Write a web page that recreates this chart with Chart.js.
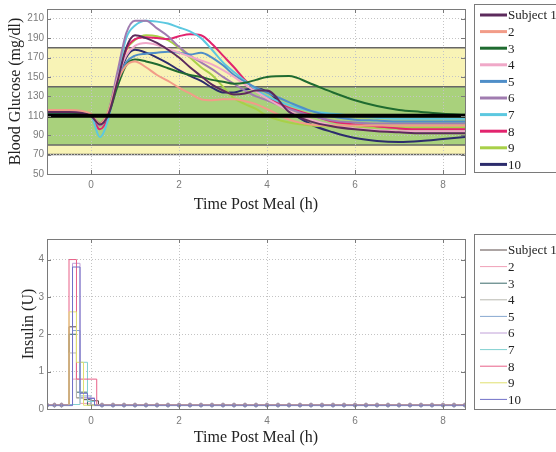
<!DOCTYPE html>
<html>
<head>
<meta charset="utf-8">
<script src="https://cdn.jsdelivr.net/npm/chart.js@4/dist/chart.umd.min.js"></script>
<style>
  html, body { margin: 0; padding: 0; background: #ffffff; }
  #wrap { position: relative; width: 556px; height: 452px; overflow: hidden; }
  canvas { position: absolute; left: 0; }
  #glucose { top: 0; }
  #insulin { top: 225px; }
</style>
</head>
<body>
<div id="wrap">
  <canvas id="glucose" width="556" height="225"></canvas>
  <canvas id="insulin" width="556" height="227"></canvas>
</div>
<script>
// ---- Glucose traces (mg/dl) sampled at these hours after the meal ----
const hours = [-1, -0.5, 0, 0.2, 0.4, 0.6, 0.8, 1, 1.25, 1.5, 1.75, 2, 2.25, 2.5, 2.75, 3, 3.25, 3.5, 3.75, 4, 4.5, 5, 5.5, 6, 6.5, 7, 7.5, 8, 8.5];

const glucose1  = [114,114,110,101,112,145,180,193,190,185,178,170,160,151,142,136,132,133,136,136,114,104,99,96,94,93,92,92,92];
const glucose2  = [116,116,112,102,115,145,162,166,160,152,146,139,133,127,126,127,127,125,122,117,106,101,100,100,100,100,100,100,100];
const glucose3  = [113,113,110,102,112,140,162,168,166,163,159,155,152,150,147,145,143,144,147,150,151,143,134,126,120,116,114,112,111];
const glucose4  = [114,114,110,101,113,148,172,182,185,183,179,175,171,167,163,157,150,142,135,128,115,106,100,97,95,94,94,94,94];
const glucose5  = [113,113,110,101,112,145,165,172,174,175,176,175,173,175,170,162,152,145,139,134,124,115,109,106,105,104,104,104,104];
const glucose6  = [114,114,110,100,115,155,195,208,208,200,192,181,172,165,158,150,143,136,130,126,117,110,105,103,102,102,102,102,102];
const glucose7  = [114,114,110,88,108,150,190,203,208,207,205,201,197,190,178,165,155,146,137,130,121,115,112,110,108,107,107,107,107];
const glucose8  = [114,114,110,96,110,145,178,189,191,190,189,192,194,193,184,172,160,147,137,129,118,111,104,101,99,97,96,96,96];
const glucose9  = [114,114,110,100,115,150,178,188,193,192,188,180,170,160,152,140,128,122,117,110,103,100,99,98,98,98,98,98,98];
const glucose10 = [113,113,110,102,114,145,170,178,175,170,164,157,151,146,139,134,134,137,138,135,115,101,93,87,84,83,84,86,88];

const glucoseSeries = [glucose1, glucose2, glucose3, glucose4, glucose5, glucose6, glucose7, glucose8, glucose9, glucose10];
const subjectLabels = ['Subject 1', '2', '3', '4', '5', '6', '7', '8', '9', '10'];
const glucoseColors = ['#5c2a5c', '#f29c88', '#1f6b30', '#f0a8c8', '#4f8ec8', '#a07cb0', '#5cc8e0', '#e2246e', '#a8d048', '#2c2c6c'];

// Target ranges: outer (yellow) and inner (green), plus the set point
const outerRange = [70, 180];
const innerRange = [80, 140];
const targetGlucose = 110;

const glucoseTicks = [50, 70, 90, 110, 130, 150, 170, 190, 210];
const hourTicks = [0, 2, 4, 6, 8];

// ---- Insulin delivery (U per step) ----
const basalHoursPre = [-1, -0.83, -0.67];
const basalHoursPost = [0.25, 0.5, 0.75, 1, 1.25, 1.5, 1.75, 2, 2.25, 2.5, 2.75, 3, 3.25, 3.5, 3.75, 4, 4.25, 4.5, 4.75, 5, 5.25, 5.5, 5.75, 6, 6.25, 6.5, 6.75, 7, 7.25, 7.5, 7.75, 8, 8.25, 8.5];
const basalRate = [0.1, 0.12, 0.1, 0.11, 0.09, 0.1, 0.12, 0.11, 0.1, 0.1];

const bolus1  = [[-0.5, 2.2], [-0.33, 0.3], [-0.17, 0.25], [0, 0.22], [0.17, 0.1]];
const bolus2  = [[-0.5, 0.12], [-0.42, 0.8], [-0.25, 0.15], [0, 0.12]];
const bolus3  = [[-0.5, 2.0], [-0.33, 0.45], [-0.08, 0.1]];
const bolus4  = [[-0.5, 1.5], [-0.33, 0.3], [0, 0.11]];
const bolus5  = [[-0.5, 0.09], [-0.42, 2.1], [-0.25, 0.35], [0, 0.09]];
const bolus6  = [[-0.5, 0.1], [-0.42, 3.9], [-0.25, 0.3], [0.08, 0.1]];
const bolus7  = [[-0.5, 0.12], [-0.25, 1.25], [-0.08, 0.2], [0.08, 0.12]];
const bolus8  = [[-0.5, 4.0], [-0.33, 0.8], [0.13, 0.11]];
const bolus9  = [[-0.5, 2.6], [-0.33, 1.25], [-0.17, 0.1]];
const bolus10 = [[-0.5, 0.1], [-0.42, 3.8], [-0.25, 0.42], [-0.08, 0.28], [0.08, 0.1]];

const bolusSeries = [bolus1, bolus2, bolus3, bolus4, bolus5, bolus6, bolus7, bolus8, bolus9, bolus10];
const insulinColors = ['#5a4a48', '#f0a0b8', '#3a6a6a', '#b8b8b0', '#88a8d0', '#c0a0d8', '#80d0d0', '#e86088', '#e0e070', '#7070c8'];
const insulinTicks = [0, 1, 2, 3, 4];

// ---- shared styling ----
const TICK_FONT = { family: 'Liberation Sans, Arial, sans-serif', size: 10 };
const TITLE_FONT = { family: 'Liberation Serif, Times New Roman, serif', size: 16 };
const LEGEND_FONT = '13px "Liberation Serif", serif';
const FRAME_COLOR = '#7a7a7a';

// Matlab-like box with inward tick marks on all four sides
const framePlugin = {
  id: 'frame',
  afterDatasetsDraw(chart) {
    const { ctx, chartArea: a, scales: { x, y } } = chart;
    ctx.save();
    ctx.strokeStyle = FRAME_COLOR;
    ctx.lineWidth = 1;
    ctx.strokeRect(Math.round(a.left) + 0.5, Math.round(a.top) + 0.5, Math.round(a.right - a.left), Math.round(a.bottom - a.top));
    ctx.beginPath();
    x.ticks.forEach(t => {
      const px = Math.round(x.getPixelForValue(t.value)) + 0.5;
      ctx.moveTo(px, a.bottom); ctx.lineTo(px, a.bottom - 4);
      ctx.moveTo(px, a.top); ctx.lineTo(px, a.top + 4);
    });
    y.ticks.forEach(t => {
      const py = Math.round(y.getPixelForValue(t.value)) + 0.5;
      ctx.moveTo(a.left, py); ctx.lineTo(a.left + 4, py);
      ctx.moveTo(a.right, py); ctx.lineTo(a.right - 4, py);
    });
    ctx.stroke();
    ctx.restore();
  }
};

// Legend drawn in a boxed panel to the right of the plot
function boxedLegend(box, lineWidth) {
  return {
    id: 'boxedLegend',
    afterDraw(chart) {
      const { ctx } = chart;
      ctx.save();
      ctx.strokeStyle = FRAME_COLOR;
      ctx.lineWidth = 1;
      ctx.strokeRect(box.left + 0.5, box.top + 0.5, box.width, box.height);
      ctx.font = LEGEND_FONT;
      ctx.textBaseline = 'middle';
      ctx.fillStyle = '#222';
      chart.data.datasets.forEach((ds, i) => {
        const cy = box.firstRow + i * box.rowGap;
        ctx.strokeStyle = ds.borderColor;
        ctx.lineWidth = lineWidth;
        ctx.beginPath();
        ctx.moveTo(box.left + 6, cy);
        ctx.lineTo(box.left + 33, cy);
        ctx.stroke();
        ctx.fillText(ds.label, box.left + 34, cy + 1);
      });
      ctx.restore();
    }
  };
}

// Target-range bands and the set-point line
const bandsPlugin = {
  id: 'bands',
  beforeDraw(chart) {
    const { ctx, chartArea: a, scales: { y } } = chart;
    const band = (lo, hi, color) => {
      const top = y.getPixelForValue(hi), bot = y.getPixelForValue(lo);
      ctx.fillStyle = color;
      ctx.fillRect(a.left, top, a.right - a.left, bot - top);
    };
    ctx.save();
    band(outerRange[0], outerRange[1], '#f8f3b6');
    band(innerRange[0], innerRange[1], '#a9d17c');
    ctx.strokeStyle = '#666';
    ctx.lineWidth = 1.5;
    [outerRange[0], innerRange[0], innerRange[1], outerRange[1]].forEach(v => {
      const py = y.getPixelForValue(v);
      ctx.beginPath(); ctx.moveTo(a.left, py); ctx.lineTo(a.right, py); ctx.stroke();
    });
    ctx.restore();
  },
  afterDatasetsDraw(chart) {
    const { ctx, chartArea: a, scales: { y } } = chart;
    const py = y.getPixelForValue(targetGlucose);
    ctx.save();
    ctx.strokeStyle = '#000';
    ctx.lineWidth = 4;
    ctx.beginPath(); ctx.moveTo(a.left, py); ctx.lineTo(a.right, py); ctx.stroke();
    ctx.restore();
  }
};

function axisX(height, tickPad, titlePad) {
  return {
    type: 'linear', min: -1, max: 8.5,
    afterBuildTicks: s => { s.ticks = hourTicks.map(v => ({ value: v })); },
    afterFit: s => { s.height = height; },
    grid: { color: '#c4c4c4', drawTicks: false, lineWidth: 1 },
    border: { display: false, dash: [1, 2] },
    ticks: { font: TICK_FONT, color: '#7c7c7c', padding: tickPad, maxRotation: 0 },
    title: { display: true, text: 'Time Post Meal (h)', font: TITLE_FONT, color: '#222', padding: { top: 0, bottom: titlePad } }
  };
}

function axisY(min, max, tickValues, title, titlePad) {
  return {
    type: 'linear', min, max,
    afterBuildTicks: s => { s.ticks = tickValues.map(v => ({ value: v })); },
    afterFit: s => { s.width = 47; },
    grid: { color: '#c4c4c4', drawTicks: false, lineWidth: 1 },
    border: { display: false, dash: [1, 2] },
    ticks: { font: TICK_FONT, color: '#7c7c7c', padding: 3 },
    title: { display: true, text: title, font: TITLE_FONT, color: '#222', padding: { top: titlePad, bottom: 0 } }
  };
}

// ---- Blood glucose chart ----
new Chart(document.getElementById('glucose'), {
  type: 'line',
  data: {
    datasets: glucoseSeries.map((vals, i) => ({
      label: subjectLabels[i],
      data: hours.map((h, k) => ({ x: h, y: vals[k] })),
      borderColor: glucoseColors[i],
      borderWidth: 2,
      pointRadius: 0,
      cubicInterpolationMode: 'monotone',
      fill: false
    }))
  },
  options: {
    responsive: false,
    animation: false,
    devicePixelRatio: 1,
    layout: { padding: { top: 4, right: 91, left: 0, bottom: 0 } },
    plugins: { legend: { display: false }, tooltip: { enabled: false } },
    scales: {
      x: axisX(51, 5, 11),
      y: axisY(50, 220, glucoseTicks, 'Blood Glucose (mg/dl)', 6)
    }
  },
  plugins: [bandsPlugin, framePlugin, boxedLegend({ left: 474, top: 4, width: 100, height: 168, firstRow: 15, rowGap: 16.6 }, 3)]
});

// ---- Insulin chart ----
new Chart(document.getElementById('insulin'), {
  type: 'line',
  data: {
    datasets: bolusSeries.map((steps, i) => ({
      label: subjectLabels[i],
      data: [
        ...basalHoursPre.map(h => ({ x: h, y: basalRate[i], basal: true })),
        ...steps.map(([h, u]) => ({ x: h, y: u })),
        ...basalHoursPost.map(h => ({ x: h, y: basalRate[i], basal: true }))
      ],
      order: bolusSeries.length - i,
      borderColor: insulinColors[i],
      borderWidth: 1,
      stepped: true,
      pointStyle: 'circle',
      pointRadius: c => (c.raw && c.raw.basal ? 1.5 : 0),
      pointBorderWidth: 0.7,
      pointBorderColor: insulinColors[i],
      pointBackgroundColor: 'rgba(0,0,0,0)',
      fill: false
    }))
  },
  options: {
    responsive: false,
    animation: false,
    devicePixelRatio: 1,
    layout: { padding: { top: 14, right: 91, left: 0, bottom: 0 } },
    plugins: { legend: { display: false }, tooltip: { enabled: false } },
    scales: {
      x: axisX(43, 6, 5),
      y: axisY(0, 4.55, insulinTicks, 'Insulin (U)', 19)
    }
  },
  plugins: [framePlugin, boxedLegend({ left: 474, top: 9, width: 100, height: 175, firstRow: 25, rowGap: 16.6 }, 1)]
});
</script>
</body>
</html>
